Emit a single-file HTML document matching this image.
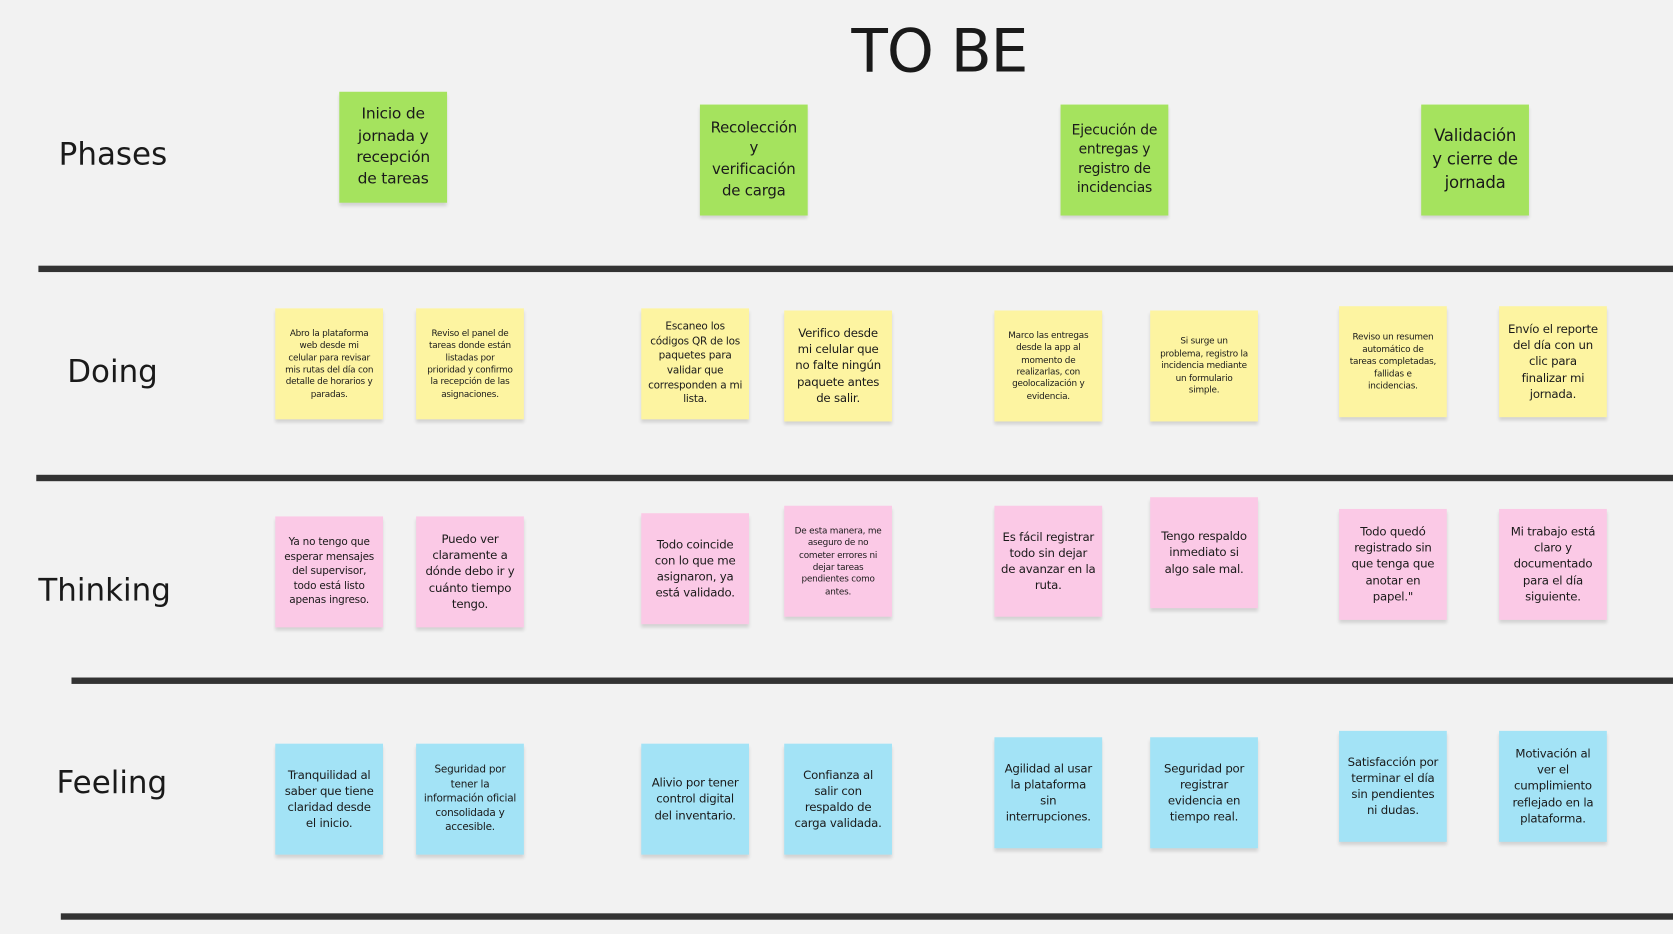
<!DOCTYPE html>
<html><head><meta charset="utf-8"><style>
html,body{margin:0;padding:0;background:#f2f2f2;width:1673px;height:933px;overflow:hidden}
#w{position:absolute;left:0;top:0;width:1568px;height:875px;transform:scale(1.06696);transform-origin:0 0;font-family:"DejaVu Sans","Liberation Sans",sans-serif;color:#1a1a1a}
.l{position:absolute;height:6px;background:#333;right:0}
.t{position:absolute;font-size:29px}
.n{position:absolute;width:101px;height:104px;display:flex;align-items:center;justify-content:center;text-align:center;box-sizing:border-box;padding:4px 6px;box-shadow:0 3px 3px rgba(0,0,0,.13);line-height:1.38;letter-spacing:-0.2px}
.g{background:#a5e35e;font-size:14.5px;line-height:1.4;padding:4px 8px}
.y{background:#fdf4a1}
.p{background:#fbc9e6}
.b{background:#a3e3f6}
.s{font-size:8.3px;padding:4px 9px}.m{font-size:9.8px}.L{font-size:11px}
</style></head><body><div id="w">
<div style="position:absolute;left:798px;top:16px;font-size:56px;font-family:'DejaVu Sans',sans-serif;letter-spacing:-1px">TO BE</div>
<div class="l" style="left:36px;top:249px"></div>
<div class="l" style="left:34px;top:445px"></div>
<div class="l" style="left:67px;top:635px"></div>
<div class="l" style="left:57px;top:856px"></div>
<div class="t" style="left:55px;top:127px">Phases</div>
<div class="t" style="left:63px;top:331px">Doing</div>
<div class="t" style="left:36px;top:536px">Thinking</div>
<div class="t" style="left:53px;top:716px">Feeling</div>

<div class="n g" style="left:318px;top:86px">Inicio de jornada y recepción de tareas</div>
<div class="n g" style="left:656px;top:98px;font-size:14px">Recolección y verificación de carga</div>
<div class="n g" style="left:994px;top:98px;font-size:13px;padding:4px 6px">Ejecución de entregas y registro de incidencias</div>
<div class="n g" style="left:1332px;top:98px;font-size:15.5px">Validación y cierre de jornada</div>

<div class="n y s" style="left:258px;top:289px">Abro la plataforma web desde mi celular para revisar mis rutas del día con detalle de horarios y paradas.</div>
<div class="n y s" style="left:390px;top:289px">Reviso el panel de tareas donde están listadas por prioridad y confirmo la recepción de las asignaciones.</div>
<div class="n y m" style="left:601px;top:289px">Escaneo los códigos QR de los paquetes para validar que corresponden a mi lista.</div>
<div class="n y L" style="left:735px;top:291px">Verifico desde mi celular que no falte ningún paquete antes de salir.</div>
<div class="n y s" style="left:932px;top:291px">Marco las entregas desde la app al momento de realizarlas, con geolocalización y evidencia.</div>
<div class="n y s" style="left:1078px;top:291px">Si surge un problema, registro la incidencia mediante un formulario simple.</div>
<div class="n y s" style="left:1255px;top:287px">Reviso un resumen automático de tareas completadas, fallidas e incidencias.</div>
<div class="n y L" style="left:1405px;top:287px">Envío el reporte del día con un clic para finalizar mi jornada.</div>

<div class="n p m" style="left:258px;top:484px">Ya no tengo que esperar mensajes del supervisor, todo está listo apenas ingreso.</div>
<div class="n p L" style="left:390px;top:484px">Puedo ver claramente a dónde debo ir y cuánto tiempo tengo.</div>
<div class="n p L" style="left:601px;top:481px">Todo coincide con lo que me asignaron, ya está validado.</div>
<div class="n p s" style="left:735px;top:474px">De esta manera, me aseguro de no cometer errores ni dejar tareas pendientes como antes.</div>
<div class="n p L" style="left:932px;top:474px">Es fácil registrar todo sin dejar de avanzar en la ruta.</div>
<div class="n p L" style="left:1078px;top:466px">Tengo respaldo inmediato si algo sale mal.</div>
<div class="n p L" style="left:1255px;top:477px">Todo quedó registrado sin que tenga que anotar en papel."</div>
<div class="n p L" style="left:1405px;top:477px">Mi trabajo está claro y documentado para el día siguiente.</div>

<div class="n b L" style="left:258px;top:697px">Tranquilidad al saber que tiene claridad desde el inicio.</div>
<div class="n b m" style="left:390px;top:697px">Seguridad por tener la información oficial consolidada y accesible.</div>
<div class="n b L" style="left:601px;top:697px">Alivio por tener control digital del inventario.</div>
<div class="n b L" style="left:735px;top:697px">Confianza al salir con respaldo de carga validada.</div>
<div class="n b L" style="left:932px;top:691px">Agilidad al usar la plataforma sin interrupciones.</div>
<div class="n b L" style="left:1078px;top:691px">Seguridad por registrar evidencia en tiempo real.</div>
<div class="n b L" style="left:1255px;top:685px">Satisfacción por terminar el día sin pendientes ni dudas.</div>
<div class="n b L" style="left:1405px;top:685px">Motivación al ver el cumplimiento reflejado en la plataforma.</div>
</div></body></html>
